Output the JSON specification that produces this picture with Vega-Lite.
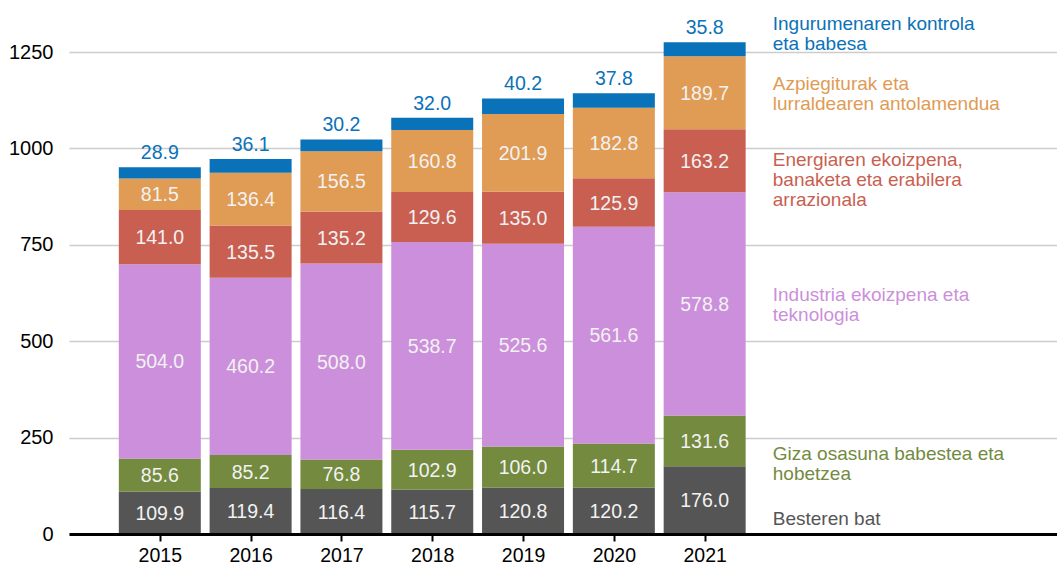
{
  "$schema": "https://vega.github.io/schema/vega-lite/v6.json",
  "width": 988,
  "height": 482,
  "autosize": {"type": "none"},
  "padding": {"left": 69, "top": 52, "right": 0, "bottom": 31},
  "config": {"view": {"stroke": null}, "font": "Liberation Sans"},
  "datasets": {
    "bars": [
      {"year": 2015, "category": "Besteren bat", "idx": 1, "value": 109.9},
      {"year": 2015, "category": "Giza osasuna babestea eta hobetzea", "idx": 2, "value": 85.6},
      {"year": 2015, "category": "Industria ekoizpena eta teknologia", "idx": 3, "value": 504.0},
      {"year": 2015, "category": "Energiaren ekoizpena, banaketa eta erabilera arrazionala", "idx": 4, "value": 141.0},
      {"year": 2015, "category": "Azpiegiturak eta lurraldearen antolamendua", "idx": 5, "value": 81.5},
      {"year": 2015, "category": "Ingurumenaren kontrola eta babesa", "idx": 6, "value": 28.9},
      {"year": 2016, "category": "Besteren bat", "idx": 1, "value": 119.4},
      {"year": 2016, "category": "Giza osasuna babestea eta hobetzea", "idx": 2, "value": 85.2},
      {"year": 2016, "category": "Industria ekoizpena eta teknologia", "idx": 3, "value": 460.2},
      {"year": 2016, "category": "Energiaren ekoizpena, banaketa eta erabilera arrazionala", "idx": 4, "value": 135.5},
      {"year": 2016, "category": "Azpiegiturak eta lurraldearen antolamendua", "idx": 5, "value": 136.4},
      {"year": 2016, "category": "Ingurumenaren kontrola eta babesa", "idx": 6, "value": 36.1},
      {"year": 2017, "category": "Besteren bat", "idx": 1, "value": 116.4},
      {"year": 2017, "category": "Giza osasuna babestea eta hobetzea", "idx": 2, "value": 76.8},
      {"year": 2017, "category": "Industria ekoizpena eta teknologia", "idx": 3, "value": 508.0},
      {"year": 2017, "category": "Energiaren ekoizpena, banaketa eta erabilera arrazionala", "idx": 4, "value": 135.2},
      {"year": 2017, "category": "Azpiegiturak eta lurraldearen antolamendua", "idx": 5, "value": 156.5},
      {"year": 2017, "category": "Ingurumenaren kontrola eta babesa", "idx": 6, "value": 30.2},
      {"year": 2018, "category": "Besteren bat", "idx": 1, "value": 115.7},
      {"year": 2018, "category": "Giza osasuna babestea eta hobetzea", "idx": 2, "value": 102.9},
      {"year": 2018, "category": "Industria ekoizpena eta teknologia", "idx": 3, "value": 538.7},
      {"year": 2018, "category": "Energiaren ekoizpena, banaketa eta erabilera arrazionala", "idx": 4, "value": 129.6},
      {"year": 2018, "category": "Azpiegiturak eta lurraldearen antolamendua", "idx": 5, "value": 160.8},
      {"year": 2018, "category": "Ingurumenaren kontrola eta babesa", "idx": 6, "value": 32.0},
      {"year": 2019, "category": "Besteren bat", "idx": 1, "value": 120.8},
      {"year": 2019, "category": "Giza osasuna babestea eta hobetzea", "idx": 2, "value": 106.0},
      {"year": 2019, "category": "Industria ekoizpena eta teknologia", "idx": 3, "value": 525.6},
      {"year": 2019, "category": "Energiaren ekoizpena, banaketa eta erabilera arrazionala", "idx": 4, "value": 135.0},
      {"year": 2019, "category": "Azpiegiturak eta lurraldearen antolamendua", "idx": 5, "value": 201.9},
      {"year": 2019, "category": "Ingurumenaren kontrola eta babesa", "idx": 6, "value": 40.2},
      {"year": 2020, "category": "Besteren bat", "idx": 1, "value": 120.2},
      {"year": 2020, "category": "Giza osasuna babestea eta hobetzea", "idx": 2, "value": 114.7},
      {"year": 2020, "category": "Industria ekoizpena eta teknologia", "idx": 3, "value": 561.6},
      {"year": 2020, "category": "Energiaren ekoizpena, banaketa eta erabilera arrazionala", "idx": 4, "value": 125.9},
      {"year": 2020, "category": "Azpiegiturak eta lurraldearen antolamendua", "idx": 5, "value": 182.8},
      {"year": 2020, "category": "Ingurumenaren kontrola eta babesa", "idx": 6, "value": 37.8},
      {"year": 2021, "category": "Besteren bat", "idx": 1, "value": 176.0},
      {"year": 2021, "category": "Giza osasuna babestea eta hobetzea", "idx": 2, "value": 131.6},
      {"year": 2021, "category": "Industria ekoizpena eta teknologia", "idx": 3, "value": 578.8},
      {"year": 2021, "category": "Energiaren ekoizpena, banaketa eta erabilera arrazionala", "idx": 4, "value": 163.2},
      {"year": 2021, "category": "Azpiegiturak eta lurraldearen antolamendua", "idx": 5, "value": 189.7},
      {"year": 2021, "category": "Ingurumenaren kontrola eta babesa", "idx": 6, "value": 35.8}
    ],
    "labels": [
      {"category": "Ingurumenaren kontrola eta babesa", "text": "Ingurumenaren kontrola\neta babesa", "lx": 2021.75, "ly": 1306},
      {"category": "Azpiegiturak eta lurraldearen antolamendua", "text": "Azpiegiturak eta\nlurraldearen antolamendua", "lx": 2021.75, "ly": 1152},
      {"category": "Energiaren ekoizpena, banaketa eta erabilera arrazionala", "text": "Energiaren ekoizpena,\nbanaketa eta erabilera\narrazionala", "lx": 2021.75, "ly": 955},
      {"category": "Industria ekoizpena eta teknologia", "text": "Industria ekoizpena eta\nteknologia", "lx": 2021.75, "ly": 605},
      {"category": "Giza osasuna babestea eta hobetzea", "text": "Giza osasuna babestea eta\nhobetzea", "lx": 2021.75, "ly": 192},
      {"category": "Besteren bat", "text": "Besteren bat", "lx": 2021.75, "ly": 23}
    ]
  },
  "resolve": {"scale": {"color": "shared"}},
  "encoding": {
    "color": {
      "field": "category",
      "type": "nominal",
      "legend": null,
      "scale": {
        "domain": [
          "Besteren bat",
          "Giza osasuna babestea eta hobetzea",
          "Industria ekoizpena eta teknologia",
          "Energiaren ekoizpena, banaketa eta erabilera arrazionala",
          "Azpiegiturak eta lurraldearen antolamendua",
          "Ingurumenaren kontrola eta babesa"
        ],
        "range": ["#555555", "#738a3f", "#cc8fdb", "#c95f51", "#e09b55", "#0a72b8"]
      }
    }
  },
  "layer": [
    {
      "data": {"name": "bars"},
      "transform": [
        {"stack": "value", "groupby": ["year"], "sort": [{"field": "idx", "order": "ascending"}], "as": ["y0", "y1"]},
        {"calculate": "(datum.y0 + datum.y1) / 2", "as": "ymid"}
      ],
      "layer": [
        {
          "mark": {"type": "bar", "width": 82},
          "encoding": {
            "x": {
              "field": "year",
              "type": "quantitative",
              "scale": {"domain": [2014, 2024.88], "nice": false, "zero": false, "padding": 0},
              "axis": {
                "title": null,
                "values": [2015, 2016, 2017, 2018, 2019, 2020, 2021],
                "format": "d",
                "grid": false,
                "domainColor": "#000000",
                "domainWidth": 3,
                "tickColor": "#000000",
                "tickWidth": 2,
                "tickSize": 7,
                "labelFontSize": 19.5,
                "labelColor": "#000000",
                "labelPadding": 5,
                "zindex": 1
              }
            },
            "y": {
              "field": "y0",
              "type": "quantitative",
              "scale": {"domain": [0, 1250], "nice": false, "padding": 0},
              "axis": {
                "title": null,
                "values": [0, 250, 500, 750, 1000, 1250],
                "format": "d",
                "grid": true,
                "gridColor": "#cccccc",
                "gridWidth": 1.5,
                "domain": false,
                "ticks": false,
                "labelPadding": 16,
                "labelFontSize": 20,
                "labelColor": "#000000"
              }
            },
            "y2": {"field": "y1"}
          }
        },
        {
          "transform": [{"filter": "datum.idx < 6"}],
          "mark": {"type": "text", "fontSize": 19.5, "baseline": "middle", "align": "center", "dy": 1},
          "encoding": {
            "x": {"field": "year", "type": "quantitative"},
            "y": {"field": "ymid", "type": "quantitative"},
            "text": {"field": "value", "type": "quantitative", "format": ".1f"},
            "color": {"value": "#f2f2f2"}
          }
        },
        {
          "transform": [{"filter": "datum.idx == 6"}],
          "mark": {"type": "text", "fontSize": 19.5, "baseline": "alphabetic", "align": "center", "dy": -8},
          "encoding": {
            "x": {"field": "year", "type": "quantitative"},
            "y": {"field": "y1", "type": "quantitative"},
            "text": {"field": "value", "type": "quantitative", "format": ".1f"}
          }
        }
      ]
    },
    {
      "data": {"name": "labels"},
      "mark": {"type": "text", "fontSize": 19, "align": "left", "baseline": "alphabetic", "lineBreak": "\n", "lineHeight": 20},
      "encoding": {
        "x": {"field": "lx", "type": "quantitative"},
        "y": {"field": "ly", "type": "quantitative"},
        "text": {"field": "text"}
      }
    }
  ]
}
